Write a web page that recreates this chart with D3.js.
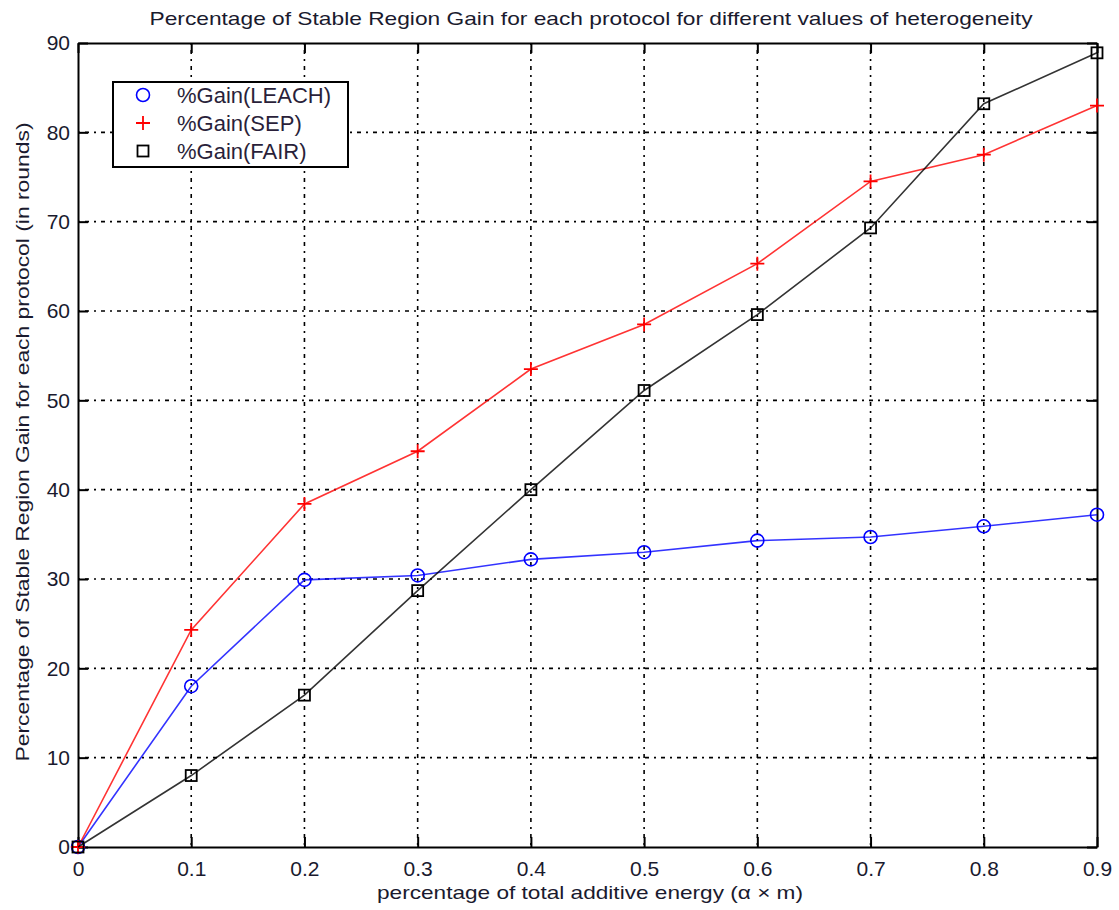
<!DOCTYPE html>
<html>
<head>
<meta charset="utf-8">
<script src="https://cdn.jsdelivr.net/npm/d3@7"></script>
<style>
  body { margin: 0; background: #fff; }
  svg { display: block; font-family: "Liberation Sans", Arial, sans-serif; }
</style>
</head>
<body>
<div id="chart"></div>
<script>
// data
const xValues = [0, 0.1, 0.2, 0.3, 0.4, 0.5, 0.6, 0.7, 0.8, 0.9];
const leach = [0, 18.0, 29.9, 30.4, 32.2, 33.0, 34.3, 34.7, 35.9, 37.2];
const sep   = [0, 24.3, 38.4, 44.3, 53.5, 58.5, 65.3, 74.5, 77.5, 83.0];
const fair  = [0, 8.0, 17.0, 28.7, 40.0, 51.1, 59.6, 69.3, 83.2, 88.9];
const seriesNames = ["%Gain(LEACH)", "%Gain(SEP)", "%Gain(FAIR)"];
const xTicks = [0, 0.1, 0.2, 0.3, 0.4, 0.5, 0.6, 0.7, 0.8, 0.9];
const yTicks = [0, 10, 20, 30, 40, 50, 60, 70, 80, 90];

const W = 1119, H = 910;
const plotL = 78, plotR = 1097, plotT = 43, plotB = 847;

const svg = d3.select("#chart").append("svg")
    .attr("width", W)
    .attr("height", H);

const x = d3.scaleLinear().domain([0, 0.9]).range([plotL, plotR]);
const y = d3.scaleLinear().domain([0, 90]).range([plotB, plotT]);

// grid
const grid = svg.append("g")
    .attr("stroke", "#000")
    .attr("stroke-width", 1.6)
    .attr("stroke-dasharray", "2,5,4,5");

grid.selectAll(".vg")
  .data(xTicks.filter(d => d > 0 && d < 0.9))
  .join("line")
    .attr("x1", d => x(d)).attr("x2", d => x(d))
    .attr("y1", plotT).attr("y2", plotB);

grid.selectAll(".hg")
  .data(yTicks.filter(d => d > 0 && d < 90))
  .join("line")
    .attr("x1", plotL).attr("x2", plotR)
    .attr("y1", d => y(d)).attr("y2", d => y(d));

// axes, ticks pointing inward on all four sides
const fmtX = d => d === 0 ? "0" : d3.format(".1f")(d);

const gx = svg.append("g")
    .attr("transform", `translate(0,${plotB})`)
    .call(d3.axisBottom(x).tickValues(xTicks).tickSizeInner(-10).tickSizeOuter(0).tickPadding(14).tickFormat(fmtX));

svg.append("g")
    .attr("transform", `translate(0,${plotT})`)
    .call(d3.axisTop(x).tickValues(xTicks).tickSizeInner(-10).tickSizeOuter(0).tickFormat(""));

const gy = svg.append("g")
    .attr("transform", `translate(${plotL},0)`)
    .call(d3.axisLeft(y).tickValues(yTicks).tickSizeInner(-10).tickSizeOuter(0).tickPadding(8));

svg.append("g")
    .attr("transform", `translate(${plotR},0)`)
    .call(d3.axisRight(y).tickValues(yTicks).tickSizeInner(-10).tickSizeOuter(0).tickFormat(""));

svg.selectAll(".domain, .tick line").attr("stroke", "#000").attr("stroke-width", 2);
svg.selectAll(".tick text")
    .attr("fill", "#1a1a2e")
    .style("font-size", "21px")
    .style("font-family", "Liberation Sans, Arial, sans-serif");
gx.selectAll(".tick text").attr("dy", "0.71em");

// lines + markers
const series = [
  {name: seriesNames[0], values: leach, color: "#0000ff", marker: "circle"},
  {name: seriesNames[1], values: sep,   color: "#ff0000", marker: "plus"},
  {name: seriesNames[2], values: fair,  color: "#000000", marker: "square"}
];

const line = d3.line()
    .x(d => x(d[0]))
    .y(d => y(d[1]));

function drawMarker(g, kind, color) {
  if (kind === "circle") {
    g.append("circle").attr("r", 6.5)
      .attr("fill", "none").attr("stroke", color).attr("stroke-width", 1.6);
  } else if (kind === "plus") {
    g.append("path").attr("d", "M-7,0H7M0,-7V7")
      .attr("fill", "none").attr("stroke", color).attr("stroke-width", 1.8);
  } else {
    g.append("rect").attr("x", -5.5).attr("y", -5.5).attr("width", 11).attr("height", 11)
      .attr("fill", "none").attr("stroke", color).attr("stroke-width", 1.8);
  }
}

series.forEach(s => {
  const pts = xValues.map((v, i) => [v, s.values[i]]);
  svg.append("path")
    .datum(pts)
    .attr("fill", "none")
    .attr("stroke", s.color)
    .attr("stroke-width", 1.6)
    .attr("stroke-opacity", 0.8)
    .attr("d", line);

  svg.append("g").selectAll("g")
    .data(pts)
    .join("g")
      .attr("transform", d => `translate(${x(d[0])},${y(d[1])})`)
      .each(function() { drawMarker(d3.select(this), s.marker, s.color); });
});

// legend
const legend = svg.append("g").attr("transform", "translate(113,82)");
legend.append("rect")
    .attr("width", 235).attr("height", 85)
    .attr("fill", "#fff").attr("stroke", "#000").attr("stroke-width", 2);

series.forEach((s, i) => {
  const row = legend.append("g").attr("transform", `translate(30,${13 + i * 28})`);
  drawMarker(row, s.marker, s.color);
  row.append("text")
    .attr("x", 34).attr("y", 0).attr("dy", "0.35em")
    .attr("fill", "#2a1f3a")
    .style("font-size", "22px")
    .text(s.name);
});

// titles
svg.append("text")
    .attr("x", 591).attr("y", 25)
    .attr("text-anchor", "middle")
    .attr("fill", "#1a1a2e")
    .attr("textLength", 883).attr("lengthAdjust", "spacingAndGlyphs")
    .style("font-size", "19px")
    .text("Percentage of Stable Region Gain for each protocol for different values of heterogeneity");

svg.append("text")
    .attr("x", 590).attr("y", 899)
    .attr("text-anchor", "middle")
    .attr("fill", "#1a1a2e")
    .attr("textLength", 426).attr("lengthAdjust", "spacingAndGlyphs")
    .style("font-size", "19px")
    .text("percentage of total additive energy (α × m)");

svg.append("text")
    .attr("transform", "translate(29,442) rotate(-90)")
    .attr("text-anchor", "middle")
    .attr("fill", "#1a1a2e")
    .attr("textLength", 639).attr("lengthAdjust", "spacingAndGlyphs")
    .style("font-size", "19px")
    .text("Percentage of Stable Region Gain for each protocol (in rounds)");
</script>
</body>
</html>
